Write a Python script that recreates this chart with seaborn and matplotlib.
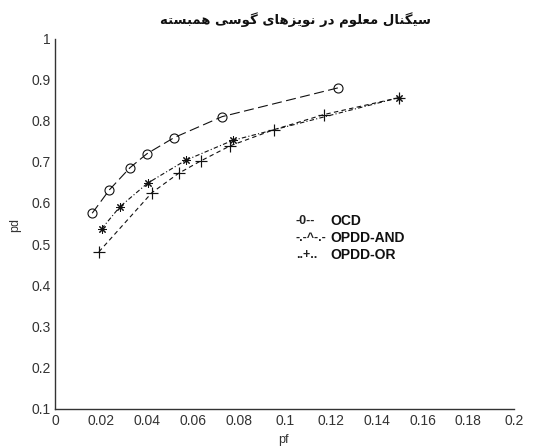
import matplotlib
matplotlib.use("Agg")
import matplotlib.pyplot as plt
import seaborn as sns
import pandas as pd

# ---- data ----
ocd_pf = [0.0162, 0.0237, 0.0327, 0.0401, 0.0519, 0.0728, 0.1233]
ocd_pd = [0.575, 0.632, 0.686, 0.720, 0.759, 0.810, 0.880]

and_pf = [0.0203, 0.0283, 0.0403, 0.0570, 0.0773, 0.1497]
and_pd = [0.537, 0.591, 0.648, 0.704, 0.752, 0.856]

or_pf = [0.0191, 0.0422, 0.0538, 0.0634, 0.0763, 0.0952, 0.1171, 0.1497]
or_pd = [0.481, 0.625, 0.672, 0.702, 0.739, 0.778, 0.815, 0.856]

x_ticks = [0, 0.02, 0.04, 0.06, 0.08, 0.1, 0.12, 0.14, 0.16, 0.18, 0.2]
x_tick_labels = ["0", "0.02", "0.04", "0.06", "0.08", "0.1", "0.12", "0.14", "0.16", "0.18", "0.2"]
y_ticks = [0.1, 0.2, 0.3, 0.4, 0.5, 0.6, 0.7, 0.8, 0.9, 1.0]
y_tick_labels = ["0.1", "0.2", "0.3", "0.4", "0.5", "0.6", "0.7", "0.8", "0.9", "1"]

title_text = "سیگنال معلوم در نویزهای گوسی همبسته"
legend_marks = ["-0--", "-.-^-.-", "..+.."]
legend_names = ["OCD", "OPDD-AND", "OPDD-OR"]
x_label = "pf"
y_label = "pd"

# ---- minimal Persian shaping (contextual forms + visual order) ----
FORMS = {
    "ا": ("\uFE8D", "\uFE8E"),
    "د": ("\uFEA9", "\uFEAA"),
    "ر": ("\uFEAD", "\uFEAE"),
    "ز": ("\uFEAF", "\uFEB0"),
    "و": ("\uFEED", "\uFEEE"),
    "ب": ("\uFE8F", "\uFE90", "\uFE91", "\uFE92"),
    "ت": ("\uFE95", "\uFE96", "\uFE97", "\uFE98"),
    "س": ("\uFEB1", "\uFEB2", "\uFEB3", "\uFEB4"),
    "ع": ("\uFEC9", "\uFECA", "\uFECB", "\uFECC"),
    "ل": ("\uFEDD", "\uFEDE", "\uFEDF", "\uFEE0"),
    "م": ("\uFEE1", "\uFEE2", "\uFEE3", "\uFEE4"),
    "ن": ("\uFEE5", "\uFEE6", "\uFEE7", "\uFEE8"),
    "ه": ("\uFEE9", "\uFEEA", "\uFEEB", "\uFEEC"),
    "ی": ("\uFBFC", "\uFBFD", "\uFBFE", "\uFBFF"),
    "گ": ("\uFB92", "\uFB93", "\uFB94", "\uFB95"),
}


def shape_rtl(text):
    out = []
    n = len(text)
    for i, ch in enumerate(text):
        if ch not in FORMS:
            out.append(ch)
            continue
        prev = text[i - 1] if i > 0 else None
        nxt = text[i + 1] if i < n - 1 else None
        joins_prev = prev in FORMS and len(FORMS[prev]) == 4
        joins_next = len(FORMS[ch]) == 4 and nxt in FORMS
        f = FORMS[ch]
        if joins_prev and joins_next:
            out.append(f[3])
        elif joins_prev:
            out.append(f[1])
        elif joins_next:
            out.append(f[2])
        else:
            out.append(f[0])
    return "".join(reversed(out))


sns.set_theme(style="white")
plt.rcParams["font.family"] = ["Liberation Sans", "DejaVu Sans"]

W, H = 534, 446
fig = plt.figure(figsize=(W / 100, H / 100), dpi=100)
ax = fig.add_axes([55 / W, 1 - 408.5 / H, (514.3 - 55) / W, (408.5 - 38.5) / H])

line_col = "#111111"
df_ocd = pd.DataFrame({"pf": ocd_pf, "pd": ocd_pd})
df_and = pd.DataFrame({"pf": and_pf, "pd": and_pd})
df_or = pd.DataFrame({"pf": or_pf, "pd": or_pd})

sns.lineplot(data=df_ocd, x="pf", y="pd", ax=ax, sort=False, estimator=None,
             color=line_col, lw=0.8, linestyle=(0, (9, 4)), marker="o",
             markersize=6.5, markerfacecolor="none", markeredgecolor=line_col,
             markeredgewidth=0.8)
sns.lineplot(data=df_and, x="pf", y="pd", ax=ax, sort=False, estimator=None,
             color=line_col, lw=0.8, linestyle=(0, (4, 2, 1, 2)), marker=(8, 2, 0),
             markersize=6, markeredgecolor=line_col, markeredgewidth=0.75)
sns.lineplot(data=df_or, x="pf", y="pd", ax=ax, sort=False, estimator=None,
             color=line_col, lw=0.8, linestyle=(0, (4, 3)), marker="+",
             markersize=8, markeredgecolor=line_col, markeredgewidth=0.85)

ax.set_xlim(0, 0.2)
ax.set_ylim(0.1, 1.0)
ax.set_xticks(x_ticks)
ax.set_xticklabels(x_tick_labels)
ax.set_yticks(y_ticks)
ax.set_yticklabels(y_tick_labels)
ax.tick_params(direction="in", length=5, width=0.9, colors="#333333",
               labelsize=10, labelcolor="#333333", pad=3)
ax.tick_params(axis="x", pad=4)
for side in ["top", "right"]:
    ax.spines[side].set_visible(False)
for side in ["left", "bottom"]:
    ax.spines[side].set_color("#333333")
    ax.spines[side].set_linewidth(1.0)
ax.set_xlabel("")
ax.set_ylabel("")

fig.text(283 / W, 1 - 440 / H, x_label, ha="center", va="center",
         fontsize=9, color="#333333")
fig.text(15 / W, 1 - 225 / H, y_label, ha="center", va="center",
         fontsize=9, color="#333333", rotation=90)

fig.text(295 / W, 1 - 20 / H, shape_rtl(title_text), ha="center", va="center",
         fontsize=9.5, fontweight="bold", family=["DejaVu Sans"], color="#111111")

leg_y = [221, 238, 255]
for mk, nm, yy in zip(legend_marks, legend_names, leg_y):
    fig.text(296 / W, 1 - yy / H, mk, ha="left", va="center", fontsize=9,
             fontweight="bold", color="#222222")
    fig.text(330 / W, 1 - yy / H, nm, ha="left", va="center", fontsize=10,
             fontweight="bold", color="#111111")

fig.savefig("out.png", dpi=100, facecolor="white")
